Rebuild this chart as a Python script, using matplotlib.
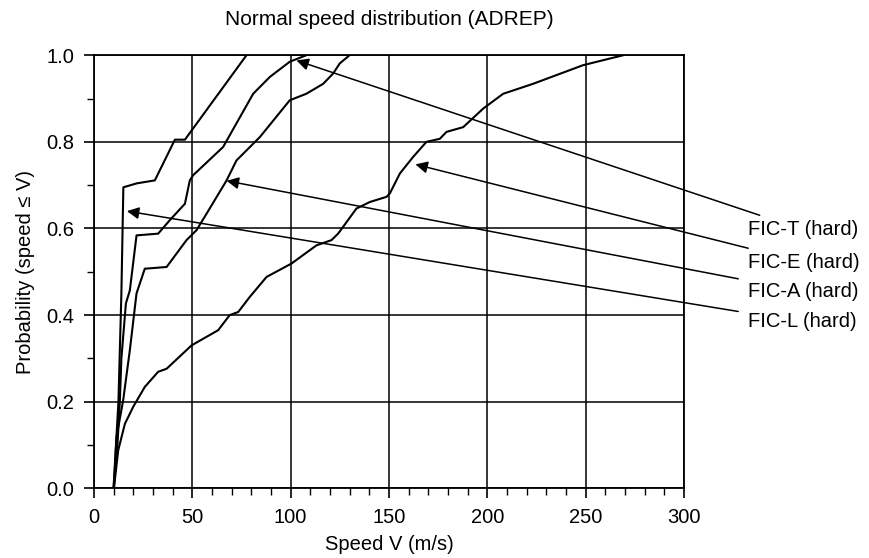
import numpy as np
import matplotlib
matplotlib.use('Agg')
import matplotlib.pyplot as plt
from matplotlib.ticker import MultipleLocator

plt.rcParams['font.family'] = ['Liberation Sans', 'DejaVu Sans']

# curvas (velocidad m/s, probabilidad)
vel_L = [10, 12.5, 14, 15, 21.7, 31, 41.2, 46.3, 77.6]
prob_L = [0.0, 0.2, 0.45, 0.695, 0.704, 0.711, 0.805, 0.805, 1.0]

vel_T = [10, 12, 13.2, 14, 16.3, 18.3, 21.7, 32.7, 38.6, 46.3, 48.8, 50.5, 65.7, 81, 89.5, 99.6, 108]
prob_T = [0.0, 0.1, 0.2, 0.3, 0.427, 0.457, 0.584, 0.588, 0.619, 0.657, 0.711, 0.723, 0.788, 0.911, 0.95, 0.985, 1.0]

vel_A = [10.2, 11.5, 14.9, 18.3, 21.7, 25.9, 37, 47.1, 52.2, 57.3, 67.5, 72.5, 84.4, 99.6, 108, 116.6, 121.7, 125, 130]
prob_A = [0.0, 0.118, 0.203, 0.319, 0.45, 0.507, 0.511, 0.573, 0.596, 0.634, 0.711, 0.757, 0.811, 0.896, 0.911, 0.934, 0.958, 0.981, 1.0]

vel_E = [10.2, 12.4, 15.8, 20, 25.9, 32.7, 37, 49.7, 63.2, 69.1, 73.4, 79.3, 87.8, 100.5, 113.2, 120.8, 124.2,
         133.5, 140.3, 148.8, 150.5, 155.6, 162.3, 169.1, 175.9, 179.3, 187.8, 198, 208.1, 223.3, 248.7, 269.1]
prob_E = [0.0, 0.088, 0.149, 0.188, 0.234, 0.269, 0.276, 0.33, 0.365, 0.4, 0.407, 0.442, 0.488, 0.519, 0.561, 0.573, 0.588,
          0.646, 0.661, 0.673, 0.681, 0.727, 0.765, 0.8, 0.807, 0.823, 0.834, 0.877, 0.911, 0.934, 0.977, 1.0]

etiquetas = ['FIC-T (hard)', 'FIC-E (hard)', 'FIC-A (hard)', 'FIC-L (hard)']
puntas = [(103, 0.988), (163.5, 0.748), (67.5, 0.71), (16.8, 0.64)]
pos_texto = [(332.5, 0.597), (332.5, 0.522), (332.5, 0.455), (332.5, 0.384)]

fig = plt.figure(figsize=(8.69, 5.58), dpi=100)
ax = fig.add_axes([0.108, 0.125, 0.679, 0.776])

for v, p in [(vel_L, prob_L), (vel_T, prob_T), (vel_A, prob_A), (vel_E, prob_E)]:
    ax.plot(v, p, color='black', linewidth=1.5)

ax.set_xlim(0, 300)
ax.set_ylim(0, 1.0)
ax.xaxis.set_major_locator(MultipleLocator(50))
ax.xaxis.set_minor_locator(MultipleLocator(10))
ax.yaxis.set_minor_locator(MultipleLocator(0.1))
ax.set_yticks([0, 0.2, 0.4, 0.6, 0.8, 1.0])
ax.set_yticklabels(['0.0', '0.2', '0.4', '0.6', '0.8', '1.0'])
ax.tick_params(which='major', direction='out', length=7, width=1.2, labelsize=14.5, colors='black', pad=7)
ax.tick_params(which='minor', direction='out', length=5, width=1.0)
ax.grid(True, which='major', color='black', linewidth=1.1)
for s in ax.spines.values():
    s.set_linewidth(1.3)

for txt, punta, pt in zip(etiquetas, puntas, pos_texto):
    ax.annotate(txt, xy=punta, xytext=pt, textcoords='data', ha='left', va='center',
                fontsize=14.5, annotation_clip=False,
                arrowprops=dict(arrowstyle='-|>', color='black', lw=1.1,
                                mutation_scale=18, shrinkA=5, shrinkB=0))

ax.set_title('Normal speed distribution (ADREP)', fontsize=15, pad=22)
ax.set_xlabel('Speed V (m/s)', fontsize=14.5, labelpad=6)
ax.set_ylabel('Probability (speed \u2264 V)', fontsize=14.5, labelpad=8)

fig.savefig('out.png', dpi=100)
